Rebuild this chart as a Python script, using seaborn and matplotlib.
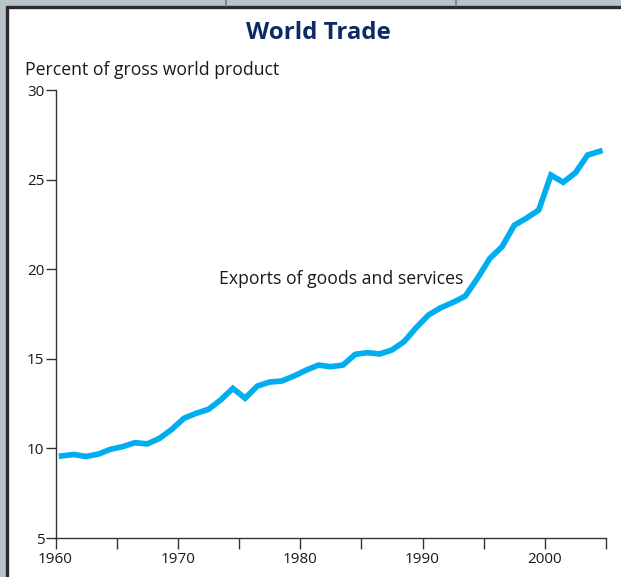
import numpy as np
import pandas as pd
import matplotlib
matplotlib.use("Agg")
import matplotlib.pyplot as plt
from matplotlib.patches import Rectangle
import seaborn as sns

# Exports of goods and services, percent of gross world product (annual)
years = list(range(1960, 2005))
exports_pct = [
    9.58, 9.66, 9.55, 9.68, 9.95, 10.10, 10.32, 10.25, 10.56, 11.06,
    11.68, 11.96, 12.18, 12.70, 13.35, 12.80, 13.48, 13.70, 13.76, 14.04,
    14.37, 14.65, 14.56, 14.65, 15.25, 15.34, 15.27, 15.49, 15.96, 16.75,
    17.45, 17.85, 18.15, 18.50, 19.50, 20.60, 21.25, 22.45, 22.85, 23.30,
    25.25, 24.85, 25.38, 26.37, 26.58,
]
title = "World Trade"
y_label = "Percent of gross world product"
series_label = "Exports of goods and services"
x_ticks = list(range(1960, 2006, 5))
x_tick_labels = ["1960", "", "1970", "", "1980", "", "1990", "", "2000", ""]
y_ticks = [5, 10, 15, 20, 25, 30]

# annual values are plotted at mid-year
df = pd.DataFrame({"year": np.array(years) + 0.5, "pct": exports_pct})

sns.set_style("ticks")
plt.rcParams["font.family"] = ["Open Sans", "DejaVu Sans"]

W, H = 621, 577
fig = plt.figure(figsize=(W / 100, H / 100), dpi=100)
fig.patch.set_facecolor("#b9c4c8")

# white panel with dark frame
panel = Rectangle((6.5 / W, -0.05), 1.2, 1 - 6.5 / H + 0.05,
                  transform=fig.transFigure, facecolor="white",
                  edgecolor="#2b2b2b", linewidth=2.4, zorder=-10)
fig.patches.append(panel)
for xf in (226, 456):
    fig.add_artist(plt.Line2D([xf / W, xf / W], [1 - 5.5 / H, 1.0],
                              transform=fig.transFigure, color="#6f7a80",
                              linewidth=1.2, zorder=-5))

ax = fig.add_axes([55.5 / W, 39 / H, 550.5 / W, 448 / H])
ax.set_zorder(5)
ax.set_facecolor("none")

sns.lineplot(data=df, x="year", y="pct", ax=ax, color="#00aeef",
             linewidth=4.1, solid_capstyle="projecting",
             solid_joinstyle="miter")

ax.set_xlim(1960, 2005)
ax.set_ylim(5, 30)
ax.set_xticks(x_ticks)
ax.set_xticklabels(x_tick_labels)
ax.set_yticks(y_ticks)
ax.set_xlabel("")
ax.set_ylabel("")
sns.despine(ax=ax)
for s in ("left", "bottom"):
    ax.spines[s].set_color("#333333")
    ax.spines[s].set_linewidth(1.0)
ax.tick_params(axis="x", length=8, width=1.0, color="#333333",
               labelsize=11, labelcolor="#1a1a1a", pad=2)
ax.tick_params(axis="y", length=7, width=1.0, color="#333333",
               labelsize=11, labelcolor="#1a1a1a", pad=1)

ax.text(1973.4, 19.45, series_label, ha="left", va="center",
        fontsize=12.7, color="#1a1a1a")

fig.text(318 / W, 1 - 33 / H, title, ha="center", va="center",
         fontsize=17.3, fontweight="bold", color="#0d2a66")
fig.text(25 / W, 1 - 70 / H, y_label, ha="left", va="center",
         fontsize=12.7, color="#1a1a1a")

fig.savefig("out.png", dpi=100)
